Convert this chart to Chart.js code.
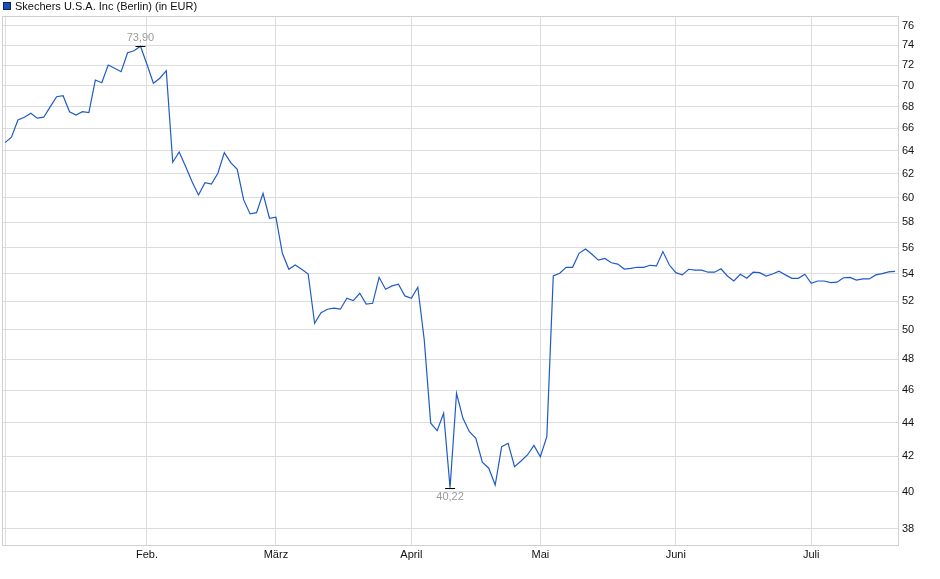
<!DOCTYPE html>
<html>
<head>
<meta charset="utf-8">
<script src="https://cdn.jsdelivr.net/npm/chart.js@4.4.1/dist/chart.umd.min.js"></script>
<style>
  html, body { margin: 0; padding: 0; background: #fff; }
</style>
</head>
<body>
<canvas id="chart" width="940" height="579"></canvas>
<script>
// Skechers U.S.A. Inc, Börse Berlin, Schlusskurse in EUR (ein Wert je Handelstag)
const seriesName = 'Skechers U.S.A. Inc (Berlin) (in EUR)';

const prices = [
  64.71, 65.20, 66.77, 67.02, 67.39, 66.93, 67.02, 67.98, 68.94, 69.04,
  67.53, 67.22, 67.53, 67.44, 70.54, 70.28, 72.02, 71.70, 71.36, 73.25,
  73.45, 73.90, 72.10, 70.23, 70.72, 71.46, 62.99, 63.88, 62.61, 61.32,
  60.21, 61.24, 61.13, 62.04, 63.83, 62.95, 62.38, 59.80, 58.66, 58.76,
  60.35, 58.31, 58.39, 55.56, 54.35, 54.67, 54.35, 54.00, 50.45, 51.20,
  51.44, 51.51, 51.44, 52.22, 52.05, 52.58, 51.81, 51.86, 53.75, 52.87,
  53.12, 53.24, 52.39, 52.22, 53.02, 49.30, 43.96, 43.51, 44.57, 40.22,
  45.81, 44.26, 43.45, 43.06, 41.66, 41.32, 40.37, 42.56, 42.76, 41.41,
  41.73, 42.08, 42.64, 41.98, 43.15, 53.85, 54.05, 54.50, 54.50, 55.56,
  55.89, 55.49, 55.04, 55.17, 54.84, 54.74, 54.37, 54.42, 54.50, 54.50,
  54.65, 54.60, 55.69, 54.67, 54.10, 53.93, 54.35, 54.28, 54.28, 54.13,
  54.13, 54.39, 53.85, 53.48, 53.98, 53.68, 54.13, 54.10, 53.85, 54.00,
  54.20, 53.93, 53.68, 53.68, 53.98, 53.31, 53.48, 53.48, 53.36, 53.39,
  53.72, 53.75, 53.55, 53.63, 53.63, 53.93, 54.02, 54.15, 54.20
];

// erster Handelstag jedes Monats (Index in prices)
const monthStarts = [0, 22, 42, 63, 83, 104, 125];
const monthLabels = ['', 'Feb.', 'März', 'April', 'Mai', 'Juni', 'Juli'];

const priceTicks = [38, 40, 42, 44, 46, 48, 50, 52, 54, 56, 58, 60, 62, 64, 66, 68, 70, 72, 74, 76];

const FONT = '"Liberation Sans", Arial, sans-serif';
const LINE_COLOR = '#1f5bc6';
const GRID_COLOR = '#dcdcdc';

// Rahmen um die Zeichenfläche
const frame = {
  id: 'frame',
  beforeDatasetsDraw(chart) {
    const { ctx, chartArea: a } = chart;
    ctx.save();
    ctx.strokeStyle = '#d0d0d0';
    ctx.lineWidth = 1;
    ctx.strokeRect(Math.round(a.left) + 0.5, Math.round(a.top) + 0.5,
      Math.round(a.right - a.left), Math.round(a.bottom - a.top));
    ctx.restore();
  }
};

// Legende oben links
const legendBox = {
  id: 'legendBox',
  afterDraw(chart) {
    const { ctx } = chart;
    ctx.save();
    ctx.fillStyle = '#1a4fb5';
    ctx.fillRect(3, 2, 8, 8);
    ctx.strokeStyle = '#0b2460';
    ctx.lineWidth = 1;
    ctx.strokeRect(3.5, 2.5, 7, 7);
    ctx.fillStyle = '#111';
    ctx.font = '11px ' + FONT;
    ctx.textBaseline = 'middle';
    ctx.textAlign = 'left';
    ctx.fillText(seriesName, 15, 6.5);
    ctx.restore();
  }
};

// Hoch- und Tiefpunkt markieren
const extremes = {
  id: 'extremes',
  afterDatasetsDraw(chart) {
    const { ctx, scales: { x, y } } = chart;
    const hi = prices.indexOf(Math.max(...prices));
    const lo = prices.indexOf(Math.min(...prices));
    ctx.save();
    ctx.font = '11px ' + FONT;
    ctx.textAlign = 'center';
    [[hi, -1], [lo, 1]].forEach(([i, dir]) => {
      const px = x.getPixelForValue(i);
      const py = Math.round(y.getPixelForValue(prices[i])) + 0.5;
      ctx.strokeStyle = '#000';
      ctx.lineWidth = 1;
      ctx.beginPath();
      ctx.moveTo(px - 5, py);
      ctx.lineTo(px + 5, py);
      ctx.stroke();
      ctx.fillStyle = '#9a9a9a';
      ctx.textBaseline = dir < 0 ? 'bottom' : 'top';
      ctx.fillText(prices[i].toFixed(2).replace('.', ','), px, py + dir * 3);
    });
    ctx.restore();
  }
};

new Chart(document.getElementById('chart'), {
  type: 'line',
  data: {
    datasets: [{
      label: seriesName,
      data: prices.map((v, i) => ({ x: i, y: v })),
      borderColor: LINE_COLOR,
      borderWidth: 1.2,
      pointRadius: 0,
      tension: 0,
      fill: false
    }]
  },
  options: {
    responsive: false,
    animation: false,
    layout: { padding: { left: 2, top: 16, right: 0, bottom: 0 } },
    plugins: {
      legend: { display: false },
      tooltip: { enabled: false }
    },
    scales: {
      x: {
        type: 'linear',
        min: -0.47,
        max: 138.45,
        afterBuildTicks: (s) => { s.ticks = monthStarts.map((v) => ({ value: v })); },
        afterFit: (s) => { s.height = 34; },
        grid: { color: GRID_COLOR, drawTicks: false },
        border: { display: false },
        ticks: {
          autoSkip: false,
          maxRotation: 0,
          padding: 3,
          color: '#111',
          font: { family: FONT, size: 11 },
          callback: (v, i) => monthLabels[i]
        }
      },
      y: {
        type: 'logarithmic',
        position: 'right',
        min: 37.17,
        max: 77.05,
        afterBuildTicks: (s) => { s.ticks = priceTicks.map((v) => ({ value: v })); },
        afterFit: (s) => { s.width = 42; },
        grid: { color: GRID_COLOR, drawTicks: false },
        border: { display: false },
        ticks: {
          padding: 4,
          color: '#111',
          font: { family: FONT, size: 11 },
          callback: (v) => String(v)
        }
      }
    }
  },
  plugins: [frame, legendBox, extremes]
});
</script>
</body>
</html>
